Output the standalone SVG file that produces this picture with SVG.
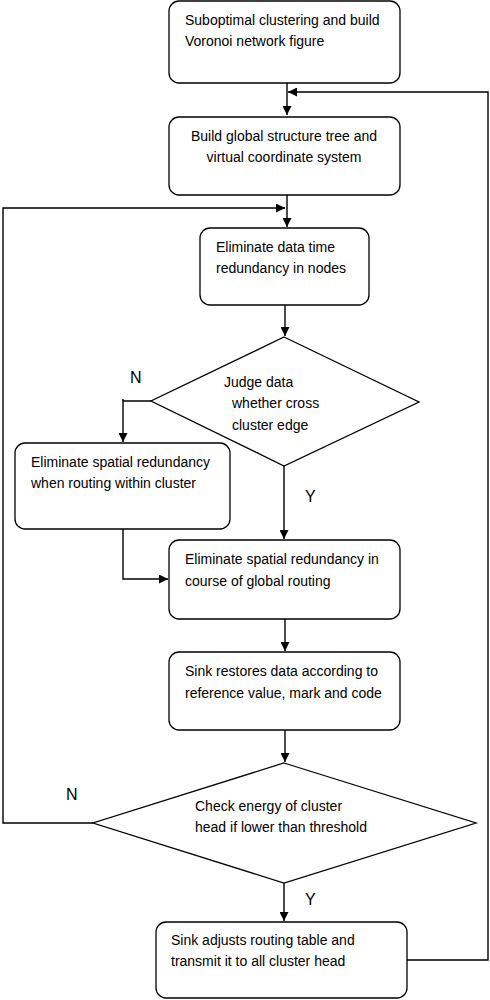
<svg xmlns="http://www.w3.org/2000/svg" width="490" height="1000" viewBox="0 0 490 1000">
<style>
.box{fill:#fff;stroke:#000;stroke-width:1.3}
.t{font-family:"Liberation Sans",Arial,sans-serif;font-size:14px;fill:#000}
.lbl{font-family:"Liberation Sans",Arial,sans-serif;font-size:16px;fill:#000}
.c{fill:none;stroke:#000;stroke-width:1.4}
</style>
<defs>
<marker id="ah" viewBox="0 0 10 10" refX="10" refY="5" markerWidth="10" markerHeight="9" orient="auto" markerUnits="userSpaceOnUse"><path d="M0,0 L10,5 L0,10 z" fill="#000"/></marker>
</defs>
<rect width="490" height="1000" fill="#fff"/>
<g id="connectors">
<path class="c" d="M287,83 V115" marker-end="url(#ah)"/>
<path class="c" d="M406,960 H488 V92 H288" marker-end="url(#ah)"/>
<path class="c" d="M287,195 V227" marker-end="url(#ah)"/>
<path class="c" d="M93,823 H3 V208 H285" marker-end="url(#ah)"/>
<path class="c" d="M285,305 V336" marker-end="url(#ah)"/>
<path class="c" d="M151,401 H123 V442" marker-end="url(#ah)"/>
<path class="c" d="M123,399 V401"/>
<path class="c" d="M284,466 V539" marker-end="url(#ah)"/>
<path class="c" d="M123,529 V579 H168" marker-end="url(#ah)"/>
<path class="c" d="M285,619 V651" marker-end="url(#ah)"/>
<path class="c" d="M285,730 V762" marker-end="url(#ah)"/>
<path class="c" d="M284,883 V921" marker-end="url(#ah)"/>
<text class="lbl" x="130" y="383">N</text>
<text class="lbl" x="305" y="502">Y</text>
<text class="lbl" x="66" y="800">N</text>
<text class="lbl" x="305" y="905">Y</text>
</g>
<g id="n1">
<rect class="box" x="169" y="1" width="231" height="82" rx="10"/>
<text class="t" x="185" y="25">Suboptimal clustering and build</text>
<text class="t" x="185" y="46">Voronoi network figure</text>
</g>
<g id="n2">
<rect class="box" x="169" y="117" width="231" height="78" rx="10"/>
<text class="t" x="284" y="141" text-anchor="middle">Build global structure tree and</text>
<text class="t" x="284" y="162" text-anchor="middle">virtual coordinate system</text>
</g>
<g id="n3">
<rect class="box" x="200" y="228" width="169" height="77" rx="10"/>
<text class="t" x="216" y="252">Eliminate data time</text>
<text class="t" x="216" y="273">redundancy in nodes</text>
</g>
<g id="n4">
<polygon class="box" points="284,337 419,402 284,466 151,401"/>
<text class="t" x="224" y="387">Judge data</text>
<text class="t" x="232" y="408">whether cross</text>
<text class="t" x="232" y="430">cluster edge</text>
</g>
<g id="n5">
<rect class="box" x="15" y="443" width="215" height="86" rx="10"/>
<text class="t" x="31" y="467">Eliminate spatial redundancy</text>
<text class="t" x="31" y="488">when routing within cluster</text>
</g>
<g id="n6">
<rect class="box" x="169" y="540" width="231" height="79" rx="10"/>
<text class="t" x="185" y="564">Eliminate spatial redundancy in</text>
<text class="t" x="185" y="586">course of global routing</text>
</g>
<g id="n7">
<rect class="box" x="169" y="652" width="231" height="78" rx="10"/>
<text class="t" x="185" y="676">Sink restores data according to</text>
<text class="t" x="185" y="698">reference value, mark and code</text>
</g>
<g id="n8">
<polygon class="box" points="284,763 476,823 284,883 93,823"/>
<text class="t" x="195" y="811">Check energy of cluster</text>
<text class="t" x="195" y="832">head if lower than threshold</text>
</g>
<g id="n9">
<rect class="box" x="156" y="922" width="251" height="76" rx="10"/>
<text class="t" x="171" y="945">Sink adjusts routing table and</text>
<text class="t" x="171" y="966">transmit it to all cluster head</text>
</g>
</svg>
